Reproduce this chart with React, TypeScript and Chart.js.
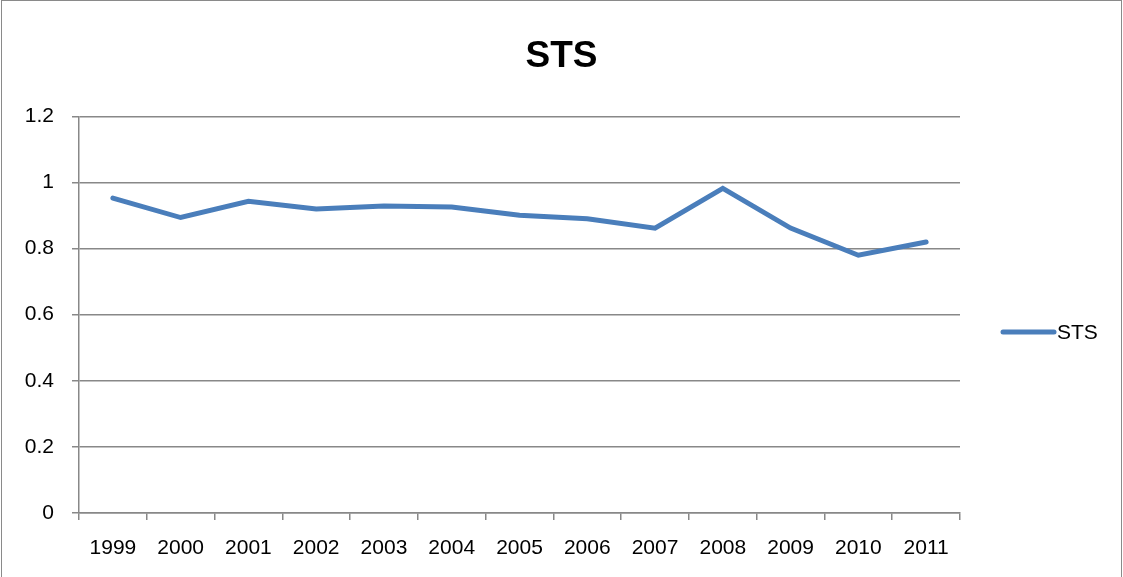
import React, { useEffect, useRef } from "react";
import { Chart, registerables } from "chart.js";

Chart.register(...registerables);

const years = ["1999", "2000", "2001", "2002", "2003", "2004", "2005", "2006", "2007", "2008", "2009", "2010", "2011"];
const stsValues = [0.953, 0.894, 0.943, 0.92, 0.929, 0.926, 0.901, 0.89, 0.862, 0.982, 0.862, 0.78, 0.82];
const seriesLabel = "STS";
const chartTitle = "STS";

const FONT = "'Liberation Sans', Arial, sans-serif";
const LINE_COLOR = "#4a7ebb";
const GRID_COLOR = "#888888";

export default function App() {
  const ref = useRef<HTMLCanvasElement | null>(null);

  useEffect(() => {
    document.body.style.margin = "0";
    const canvas = ref.current;
    if (!canvas) return;

    const borderPlugin = {
      id: "outerBorder",
      beforeDraw(chart: any) {
        const ctx = chart.ctx;
        ctx.save();
        ctx.fillStyle = "#ffffff";
        ctx.fillRect(0, 0, chart.width, chart.height);
        ctx.restore();
      },
      afterDraw(chart: any) {
        const ctx = chart.ctx;
        ctx.save();
        ctx.strokeStyle = "#8a8a8a";
        ctx.lineWidth = 1;
        ctx.strokeRect(1.5, 0.5, chart.width - 3, chart.height + 5);
        ctx.restore();
      },
    };

    const legendPlugin = {
      id: "customLegend",
      afterDraw(chart: any) {
        const ctx = chart.ctx;
        const ds = chart.data.datasets[0];
        const y = 332;
        ctx.save();
        ctx.strokeStyle = ds.borderColor;
        ctx.lineWidth = 5;
        ctx.lineCap = "round";
        ctx.beginPath();
        ctx.moveTo(1003, y);
        ctx.lineTo(1054, y);
        ctx.stroke();
        ctx.fillStyle = "#000000";
        ctx.font = `21px ${FONT}`;
        ctx.textBaseline = "middle";
        ctx.textAlign = "left";
        ctx.fillText(ds.label, 1057, y + 1);
        ctx.restore();
      },
    };

    const chart = new Chart(canvas, {
      type: "line",
      data: {
        labels: years,
        datasets: [
          {
            label: seriesLabel,
            data: stsValues,
            borderColor: LINE_COLOR,
            backgroundColor: LINE_COLOR,
            borderWidth: 5,
            pointRadius: 0,
            pointHoverRadius: 0,
            tension: 0,
            borderCapStyle: "round",
            borderJoinStyle: "miter",
          },
        ],
      },
      options: {
        responsive: false,
        animation: false,
        layout: { padding: 0 },
        plugins: {
          legend: { display: false },
          tooltip: { enabled: false },
          title: {
            display: true,
            text: chartTitle,
            color: "#000000",
            font: { family: FONT, size: 37, weight: "bold" },
            padding: { top: 35, bottom: 37 },
          },
        },
        scales: {
          x: {
            type: "category",
            offset: true,
            grid: {
              offset: true,
              drawOnChartArea: false,
              drawTicks: true,
              tickLength: 7,
              color: GRID_COLOR,
              lineWidth: 1.5,
            },
            border: { display: true, color: GRID_COLOR, width: 1.5 },
            ticks: {
              color: "#000000",
              font: { family: FONT, size: 21 },
              padding: 16,
              maxRotation: 0,
              autoSkip: false,
            },
            afterFit(scale: any) {
              scale.height = 64;
            },
          },
          y: {
            min: 0,
            max: 1.2,
            ticks: {
              stepSize: 0.2,
              color: "#000000",
              font: { family: FONT, size: 21 },
              padding: 18,
              callback: (v: any) => String(Math.round(Number(v) * 10) / 10),
            },
            grid: {
              color: GRID_COLOR,
              lineWidth: 1.5,
              tickLength: 7,
              drawTicks: true,
            },
            border: { display: true, color: GRID_COLOR, width: 1.5 },
            afterFit(scale: any) {
              scale.width = 79;
            },
          },
          legendSpace: {
            type: "linear",
            position: "right",
            display: true,
            ticks: { display: false },
            grid: { display: false, drawTicks: false },
            border: { display: false },
            afterFit(scale: any) {
              scale.width = 163;
            },
          },
        },
      },
      plugins: [borderPlugin, legendPlugin],
    });

    return () => chart.destroy();
  }, []);

  return (
    <div style={{ position: "absolute", left: 0, top: 0, width: 1123, height: 577 }}>
      <canvas ref={ref} width={1123} height={577} />
    </div>
  );
}
